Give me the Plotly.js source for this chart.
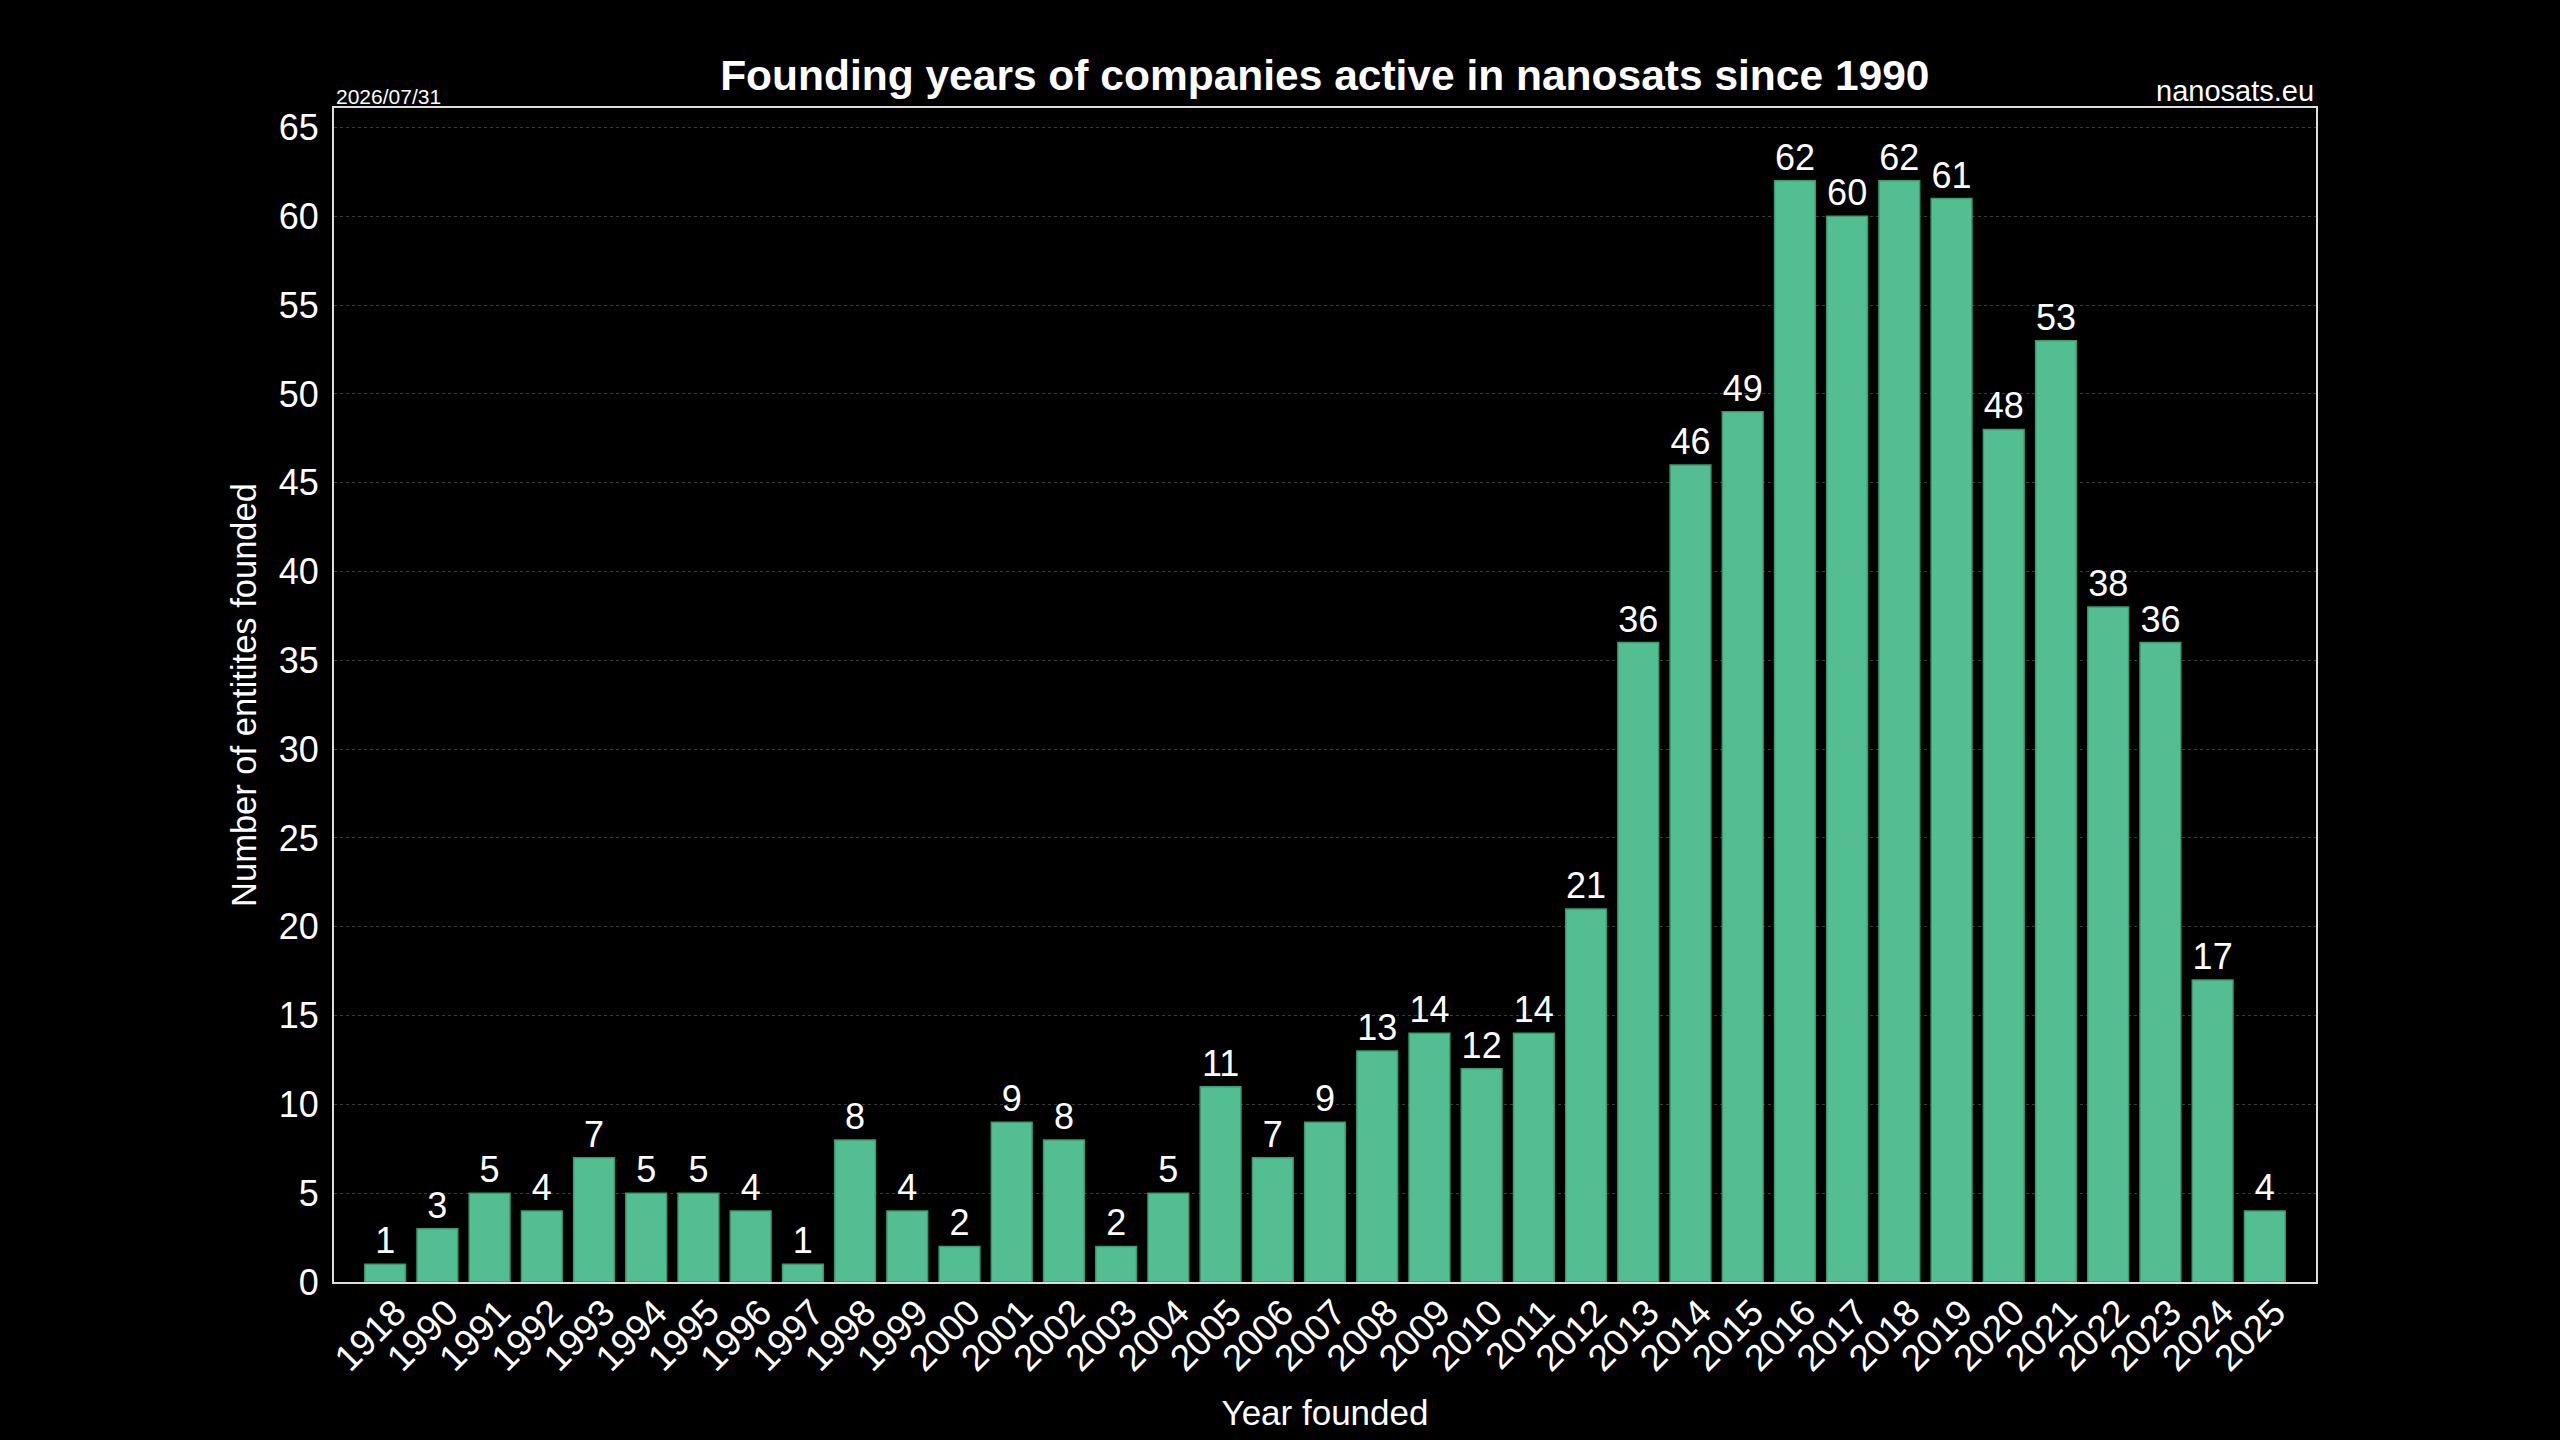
<!DOCTYPE html>
<html>
<head>
<meta charset="utf-8">
<script src="https://cdn.plot.ly/plotly-3.0.1.min.js"></script>
<style>
  html, body { margin: 0; padding: 0; background: #000; }
  #chartDiv { width: 2560px; height: 1440px; }
</style>
</head>
<body>
<div id="chartDiv"></div>
<script>
// founding years and number of entities per year
var years = ['1918', '1990', '1991', '1992', '1993', '1994', '1995', '1996', '1997', '1998',
             '1999', '2000', '2001', '2002', '2003', '2004', '2005', '2006', '2007', '2008',
             '2009', '2010', '2011', '2012', '2013', '2014', '2015', '2016', '2017', '2018',
             '2019', '2020', '2021', '2022', '2023', '2024', '2025'];
var counts = [1, 3, 5, 4, 7, 5, 5, 4, 1, 8,
              4, 2, 9, 8, 2, 5, 11, 7, 9, 13,
              14, 12, 14, 21, 36, 46, 49, 62, 60, 62,
              61, 48, 53, 38, 36, 17, 4];
var yTicks = [0, 5, 10, 15, 20, 25, 30, 35, 40, 45, 50, 55, 60, 65];

var fontMain = 'Liberation Sans, Arial, sans-serif';

var trace1 = {
    x: years,
    y: counts,
    type: 'bar',
    text: counts.map(String),
    textposition: 'outside',
    constraintext: 'none',
    cliponaxis: false,
    textfont: {family: fontMain, size: 36, color: '#ffffff'},
    marker: {
        color: '#53be92',
        line: {color: '#3c9a72', width: 1.5}
    },
    hoverinfo: 'x+y'
};

var layout = {
    width: 2560,
    height: 1440,
    paper_bgcolor: '#000000',
    plot_bgcolor: '#000000',
    margin: {l: 334, r: 244, t: 108, b: 158},
    bargap: 0.22,
    showlegend: false,
    font: {family: fontMain, color: '#ffffff', size: 36},
    title: {
        text: '<b>Founding years of companies active in nanosats since 1990</b>',
        font: {family: fontMain, size: 42.5, color: '#ffffff'},
        x: 0.5175, xanchor: 'center',
        y: 0.948, yanchor: 'middle'
    },
    xaxis: {
        type: 'category',
        range: [-0.98, 36.98],
        tickangle: -45,
        tickfont: {family: fontMain, size: 37, color: '#ffffff'},
        ticklabelshift: 10,
        ticklabelstandoff: -8,
        showgrid: false,
        showline: true,
        mirror: true,
        linecolor: '#dddddd',
        linewidth: 2,
        ticks: '',
        title: {text: 'Year founded', font: {family: fontMain, size: 35, color: '#ffffff'}, standoff: 23}
    },
    yaxis: {
        range: [0, 66.1],
        tickvals: yTicks,
        ticktext: yTicks.map(String),
        tickfont: {family: fontMain, size: 36, color: '#ffffff'},
        showgrid: true,
        gridcolor: '#3a3a3a',
        griddash: 'dot',
        gridwidth: 1,
        zeroline: false,
        showline: true,
        mirror: true,
        linecolor: '#dddddd',
        linewidth: 2,
        ticks: '',
        ticklabelstandoff: 6,
        title: {text: 'Number of entitites founded', font: {family: fontMain, size: 34.5, color: '#ffffff'}, standoff: 12}
    },
    annotations: [
        {
            text: '2026/07/31', xref: 'paper', yref: 'paper', x: 0, y: 1,
            xanchor: 'left', yanchor: 'bottom', showarrow: false,
            font: {family: 'Liberation Sans Narrow, ' + fontMain, size: 21, color: '#ffffff'},
            yshift: -2
        },
        {
            text: 'nanosats.eu', xref: 'paper', yref: 'paper', x: 1, y: 1,
            xanchor: 'right', yanchor: 'bottom', showarrow: false,
            font: {family: fontMain, size: 29, color: '#ffffff'},
            yshift: -1
        }
    ]
};

Plotly.newPlot('chartDiv', [trace1], layout, {displayModeBar: false, staticPlot: true});
</script>
</body>
</html>
